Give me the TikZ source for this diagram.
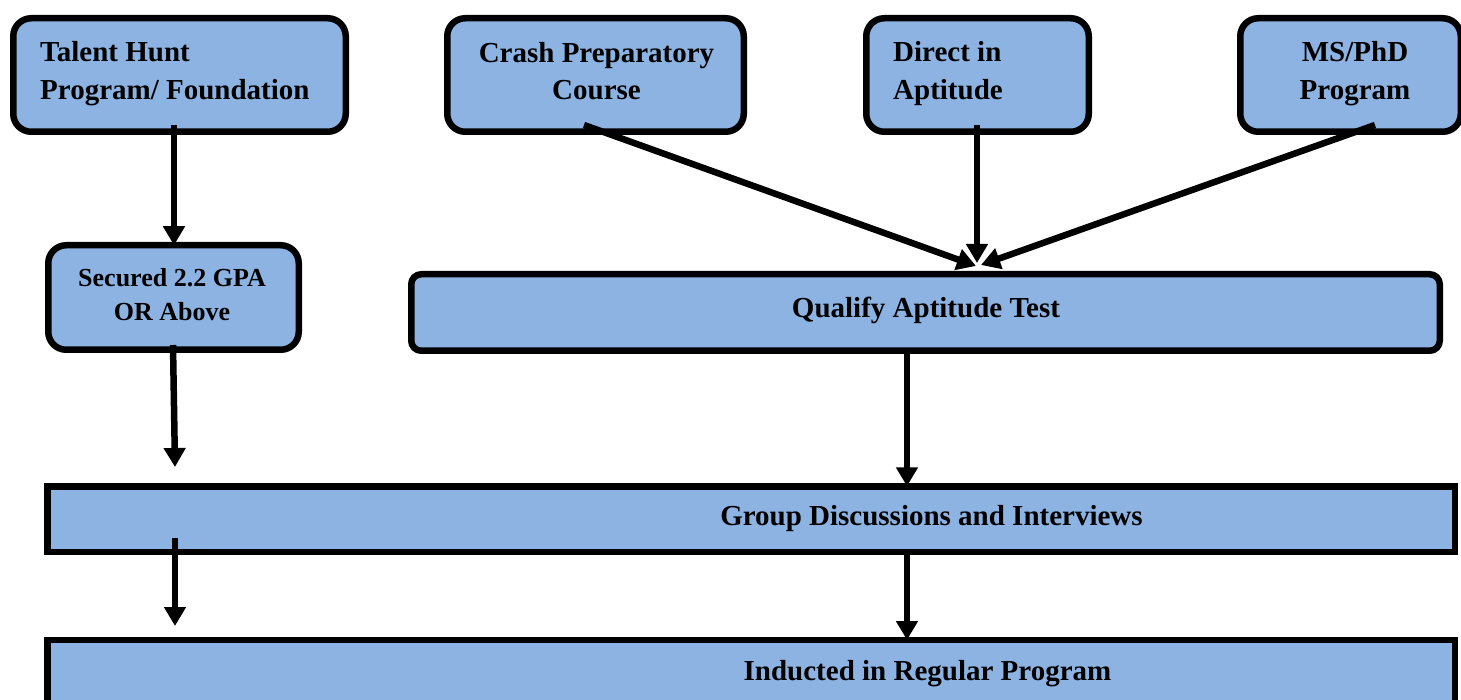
\documentclass[tikz,border=0pt]{standalone}
\usepackage{fontspec}
\setmainfont{Liberation Serif}
\usetikzlibrary{arrows.meta}
\definecolor{boxblue}{RGB}{141,179,226}
\begin{document}
\begin{tikzpicture}[x=1pt,y=-1pt,
  box/.style={draw=black,fill=boxblue,line width=6.5pt,rounded corners=18pt,inner sep=0pt,outer sep=0pt},
  flatbox/.style={draw=black,fill=boxblue,line width=6.5pt,rounded corners=10pt,inner sep=0pt,outer sep=0pt},
  sqbox/.style={draw=black,fill=boxblue,line width=6.5pt,inner sep=0pt,outer sep=0pt},
  lbl/.style={inner sep=0pt,font=\fontsize{29}{38}\selectfont\bfseries},
  slbl/.style={inner sep=0pt,font=\fontsize{26}{34}\selectfont\bfseries},
  arr/.style={line width=6.5pt,-{Triangle[width=21pt,length=19pt]}}]
\useasboundingbox (0,0) rectangle (1461,700);
\clip (0,0) rectangle (1461,700);

% boxes
\node[box,minimum width=332.5pt,minimum height=113.5pt] (talent) at (179.5,75) {};
\node[box,minimum width=296.5pt,minimum height=113.5pt] (crash) at (595.5,75) {};
\node[box,minimum width=222.5pt,minimum height=113.5pt] (direct) at (977.5,75) {};
\node[box,minimum width=220.5pt,minimum height=113.5pt] (msphd) at (1350.5,75) {};
\node[box,minimum width=250.5pt,minimum height=104.5pt] (secured) at (173.5,297.5) {};
\node[flatbox,minimum width=1028.5pt,minimum height=76.5pt] (qualify) at (925.5,312.5) {};
\node[sqbox,minimum width=1407.5pt,minimum height=65.5pt] (group) at (751,519) {};
\node[sqbox,minimum width=1407.5pt,minimum height=126pt] (inducted) at (751,703) {};

% texts
\node[lbl,anchor=base west] (t1a) at (40,62) {Talent Hunt};
\node[lbl,anchor=base west] (t1b) at (40,100) {Program/ Foundation};
\node[lbl,anchor=base] (t2a) at (596.5,63) {Crash Preparatory};
\node[lbl,anchor=base] (t2b) at (596.5,100) {Course};
\node[lbl,anchor=base west] (t3a) at (893,62) {Direct in};
\node[lbl,anchor=base west] (t3b) at (893,100) {Aptitude};
\node[lbl,anchor=base] (t4a) at (1355,62) {MS/PhD};
\node[lbl,anchor=base] (t4b) at (1355,100) {Program};
\node[slbl,anchor=base] (t5a) at (172,287) {Secured 2.2 GPA};
\node[slbl,anchor=base] (t5b) at (172,321) {OR Above};
\node[lbl,anchor=base] (t6) at (926,318) {Qualify Aptitude Test};
\node[lbl,anchor=base] (t7) at (931.5,525) {Group Discussions and Interviews};
\node[lbl,anchor=base] (t8) at (927.5,680) {Inducted in Regular Program};

% connector points
\coordinate (s1) at (174,125);
\coordinate (s2) at (173,345);
\coordinate (e2) at (175,467);
\coordinate (s3) at (175,538);
\coordinate (e3) at (175,626);
\coordinate (s4) at (907,354);
\coordinate (s5) at (907,552);
\coordinate (s6) at (584,125);
\coordinate (e6) at (976,266);
\coordinate (s7) at (977,125);
\coordinate (e7) at (977,263);
\coordinate (s8) at (1375,125);
\coordinate (e8) at (981,265);

% connectors
\draw[arr] (s1) -- (s1 |- secured.north);
\draw[arr] (s2) -- (e2);
\draw[arr] (s3) -- (e3);
\draw[arr] (s4) -- (s4 |- group.north);
\draw[arr] (s5) -- (s5 |- inducted.north);
\draw[arr] (s6) -- (e6);
\draw[arr] (s7) -- (e7);
\draw[arr] (s8) -- (e8);
\end{tikzpicture}
\end{document}
